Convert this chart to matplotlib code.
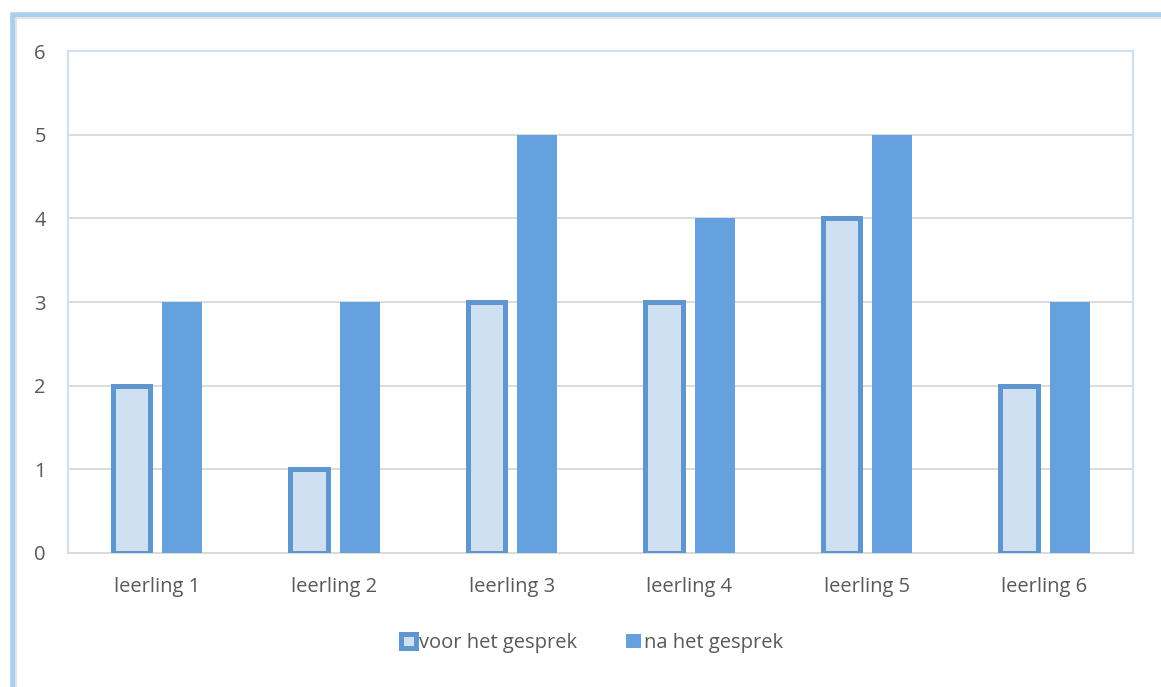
import matplotlib.pyplot as plt
import matplotlib.patches as mpatches
import numpy as np

# data
categories = ['leerling 1', 'leerling 2', 'leerling 3', 'leerling 4', 'leerling 5', 'leerling 6']
voor = [2, 1, 3, 3, 4, 2]
na = [3, 3, 5, 4, 5, 3]
series_names = ['voor het gesprek', 'na het gesprek']

plt.rcParams['font.family'] = ['Open Sans', 'DejaVu Sans']
TEXT = '#595959'

fig = plt.figure(figsize=(11.61, 6.87), dpi=100)
ax = fig.add_axes([68 / 1161, 1 - 553 / 687, (1133 - 68) / 1161, (553 - 51) / 687])

x = np.arange(len(categories))
ax.bar(x - 0.143, voor, width=0.21, color='#CFE0F3', edgecolor='#5F96CE', linewidth=3.6,
       label=series_names[0], zorder=3)
ax.bar(x + 0.143, na, width=0.225, color='#65A2DD', edgecolor='none',
       label=series_names[1], zorder=3)

ax.set_xlim(-0.5, len(categories) - 0.5)
ax.set_ylim(0, 6)
ax.set_yticks(range(0, 7))
ax.set_xticks(x)
ax.set_xticklabels(categories)
ax.yaxis.grid(True, color='#D9D9D9', linewidth=1.3, zorder=0)
ax.tick_params(axis='both', length=0, labelsize=14.5, colors=TEXT)
ax.tick_params(axis='x', pad=17)
ax.tick_params(axis='y', pad=16)
for side in ['left', 'top', 'right']:
    ax.spines[side].set_color('#CFE0F5')
    ax.spines[side].set_linewidth(1.5)
ax.spines['bottom'].set_color('#D9D9D9')
ax.spines['bottom'].set_linewidth(1.3)

leg = fig.legend(loc='center', bbox_to_anchor=(592 / 1161, 1 - 643 / 687), ncol=2,
                 frameon=False, fontsize=14.5, handlelength=0.75, handleheight=0.75,
                 handletextpad=0.15, columnspacing=2.4)
for t in leg.get_texts():
    t.set_color(TEXT)

# glowing frame around the chart
frame = mpatches.Rectangle((13 / 1161, -0.05), 1.1, 1 - 15 / 687 + 0.05,
                           transform=fig.transFigure, fill=False,
                           edgecolor='#A8CEF2', linewidth=4, zorder=-1)
fig.patches.append(frame)
shadow = mpatches.Rectangle((16 / 1161, -0.05), 1.1, 1 - 18 / 687 + 0.05,
                            transform=fig.transFigure, fill=False,
                            edgecolor='#E3E3E3', linewidth=1.5, zorder=-1)
fig.patches.append(shadow)

fig.savefig('out.png', dpi=100)
